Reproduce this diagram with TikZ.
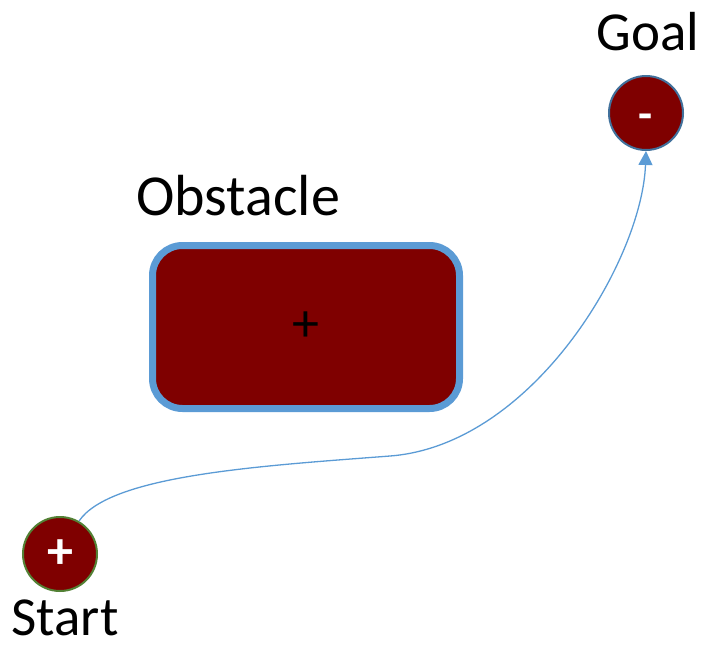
\documentclass[tikz,border=0pt]{standalone}
\usepackage{fontspec}
\setmainfont{Carlito}
\usetikzlibrary{arrows.meta}
\definecolor{maroonfill}{HTML}{7F0000}
\definecolor{lblue}{HTML}{5B9BD5}
\definecolor{dblue}{HTML}{41719C}
\definecolor{sgreen}{HTML}{538135}
\tikzset{
  lbl/.style={font=\fontsize{55}{60}\selectfont, inner sep=0pt, anchor=base},
  pt/.style={circle, fill=maroonfill, minimum size=74pt, inner sep=0pt, text=white, font=\fontsize{52}{56}\selectfont\bfseries},
  path/.style={draw=lblue, line width=1.3pt, -{Triangle[length=14pt,width=14pt]}}
}
\begin{document}
\begin{tikzpicture}[x=1pt,y=1pt]
\useasboundingbox (0,0) rectangle (703,-645);
\node[pt, draw=sgreen, line width=2pt] (start) at (60,-554) {+};
\node[pt, draw=dblue, line width=2pt, font=\fontsize{46}{50}\selectfont\bfseries] (goal) at (646,-113) {\smash{\raisebox{-16pt}{-}}};
\node[draw=lblue, fill=maroonfill, line width=7pt, rounded corners=30pt, minimum width=307pt, minimum height=163pt, inner sep=0pt, font=\fontsize{54}{58}\selectfont] (obs) at (306,-327) {+};
\node[lbl] (tstart) at (65,-635) {Start};
\node[lbl] (tgoal) at (648,-50) {Goal};
\node[lbl, font=\fontsize{58}{62}\selectfont] (tobs) at (238,-215) {Obstacle};
\coordinate (mid) at (390,-456);
\draw[path] (start.60) .. controls (110,-475) and (260,-466) .. (mid) .. controls (533,-445) and (642,-260) .. (goal.south);
\end{tikzpicture}
\end{document}
